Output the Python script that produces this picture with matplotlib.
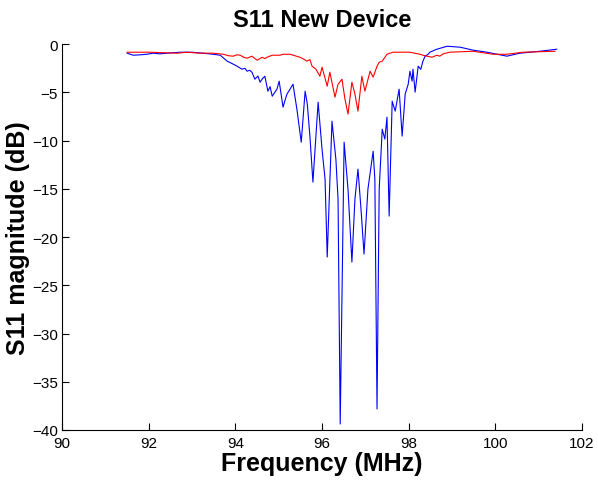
import matplotlib
matplotlib.use("Agg")
import matplotlib.pyplot as plt

# S11 of the new device (MHz, dB)
blue_freq = [91.50, 91.64, 91.80, 91.96, 92.10, 92.25, 92.42, 92.72, 93.00, 93.25,
             93.48, 93.65, 93.81, 93.92, 94.04, 94.10, 94.15, 94.22, 94.27, 94.33,
             94.38, 94.45, 94.52, 94.57, 94.62, 94.68, 94.75, 94.80, 94.85, 94.96,
             95.01, 95.10, 95.14, 95.19, 95.33, 95.42, 95.52, 95.61, 95.66, 95.72,
             95.79, 95.91, 96.00, 96.07, 96.12, 96.23, 96.32, 96.37, 96.42, 96.51,
             96.60, 96.69, 96.76, 96.83, 96.90, 96.97, 97.06, 97.18, 97.22, 97.27,
             97.32, 97.39, 97.45, 97.50, 97.55, 97.62, 97.69, 97.78, 97.85, 97.92,
             97.99, 98.03, 98.08, 98.10, 98.15, 98.22, 98.28, 98.33, 98.38, 98.45,
             98.49, 98.65, 98.89, 99.19, 99.49, 99.81, 100.04, 100.27, 100.57, 101.03,
             101.42]
blue_db = [-0.93, -1.14, -1.10, -1.04, -0.93, -1.00, -0.93, -0.83, -0.83, -0.93,
           -1.04, -1.14, -1.76, -2.00, -2.28, -2.45, -2.59, -2.50, -2.80, -2.70,
           -2.90, -3.63, -3.30, -3.94, -3.60, -3.32, -4.87, -4.40, -5.39, -4.66,
           -3.83, -6.53, -5.90, -5.18, -4.15, -6.74, -10.16, -4.87, -6.20, -9.53,
           -14.30, -6.01, -10.88, -13.99, -22.07, -7.98, -11.92, -16.06, -39.38, -10.16,
           -15.03, -22.59, -16.06, -12.95, -17.10, -21.76, -15.03, -11.09, -13.99, -37.82,
           -15.03, -8.81, -9.84, -7.56, -17.82, -5.91, -6.94, -4.66, -9.53, -5.18,
           -4.15, -2.80, -3.83, -2.59, -4.97, -2.28, -2.60, -1.76, -1.24, -1.04,
           -0.83, -0.52, -0.21, -0.31, -0.62, -0.83, -1.04, -1.24, -0.93, -0.73,
           -0.52]

red_freq = [91.50, 92.03, 92.65, 92.88, 93.18, 93.48, 93.72, 93.85, 93.95, 94.03,
            94.11, 94.19, 94.27, 94.38, 94.50, 94.62, 94.68, 94.73, 94.85, 95.03,
            95.10, 95.26, 95.49, 95.58, 95.65, 95.72, 95.77, 95.86, 95.95, 96.00,
            96.12, 96.18, 96.30, 96.37, 96.46, 96.53, 96.60, 96.69, 96.76, 96.83,
            96.92, 96.99, 97.11, 97.18, 97.27, 97.32, 97.39, 97.50, 97.64, 98.03,
            98.26, 98.34, 98.42, 98.54, 98.65, 98.72, 98.80, 98.95, 99.49, 99.95,
            100.27, 100.64, 101.38]
red_db = [-0.83, -0.83, -0.93, -0.83, -0.93, -0.93, -1.04, -1.20, -1.24, -1.10,
          -1.14, -1.35, -1.45, -1.24, -1.66, -1.35, -1.50, -1.35, -1.14, -1.14,
          -1.04, -1.04, -1.35, -1.55, -1.76, -1.60, -2.28, -2.59, -3.32, -2.38,
          -4.35, -2.90, -5.49, -4.15, -3.63, -5.70, -7.25, -3.94, -5.18, -6.94,
          -3.32, -4.87, -2.80, -3.42, -2.28, -1.87, -1.76, -1.04, -0.83, -0.83,
          -1.04, -1.15, -1.24, -1.35, -1.14, -1.24, -1.00, -0.83, -0.73, -1.04,
          -1.04, -0.83, -0.73]

xticks = [90, 92, 94, 96, 98, 100, 102]
yticks = [-40, -35, -30, -25, -20, -15, -10, -5, 0]

plt.rcParams["font.family"] = ["Liberation Sans", "DejaVu Sans"]

fig = plt.figure(figsize=(5.98, 4.81), dpi=100)
ax = fig.add_axes([0.104, 0.104, 0.869, 0.802])

ax.plot(blue_freq, blue_db, color="#0000ff", lw=0.8)
ax.plot(red_freq, red_db, color="#ff0000", lw=0.8)

ax.set_xlim(90, 102)
ax.set_ylim(-40, 0)
ax.set_xticks(xticks)
ax.set_yticks(yticks)
ax.tick_params(direction="in", length=5, labelsize=11, top=False, right=False)
ax.tick_params(axis="x", pad=4)
ax.tick_params(axis="y", pad=3)
ax.spines["top"].set_visible(False)
ax.spines["right"].set_visible(False)

ax.set_title("S11 New Device", fontsize=17, fontweight="bold", pad=13)
ax.set_xlabel("Frequency (MHz)", fontsize=18, fontweight="bold", labelpad=1)
ax.set_ylabel("S11 magnitude (dB)", fontsize=18, fontweight="bold")
ax.yaxis.set_label_coords(-0.062, 0.5)

fig.savefig("out.png", dpi=100)
